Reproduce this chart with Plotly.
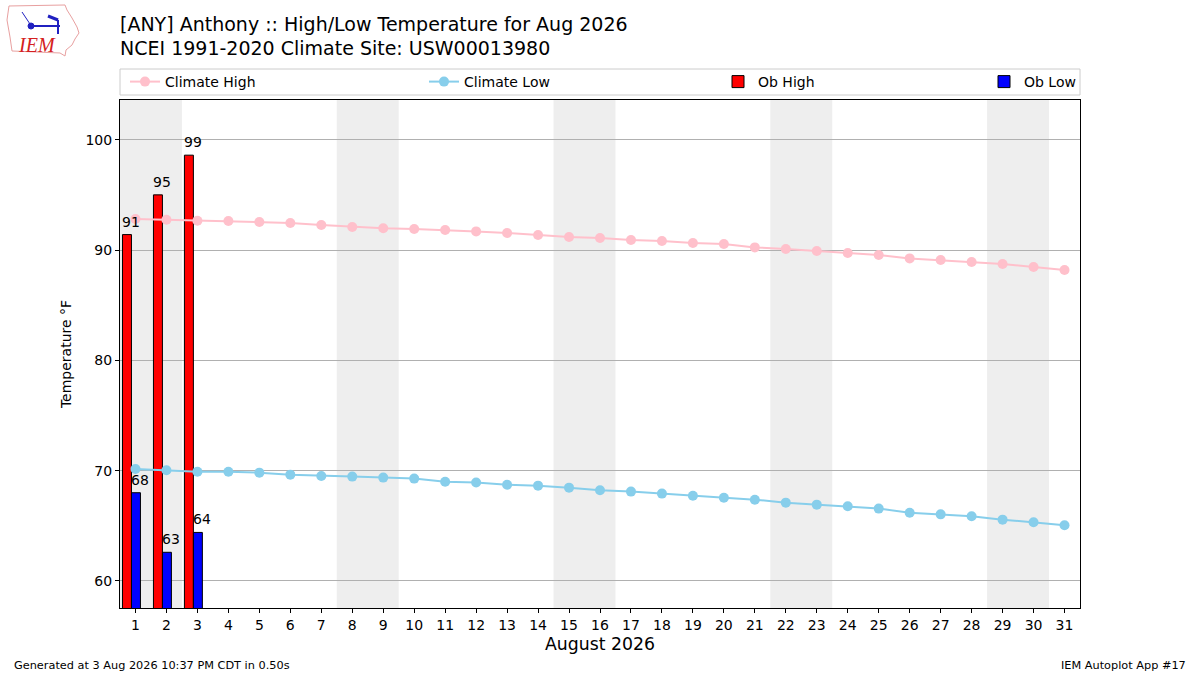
import datetime
import plotly.graph_objects as go

# ---------------- data ----------------
days = list(range(1, 32))
climate_high = [92.81, 92.75, 92.66, 92.63, 92.54, 92.45, 92.27, 92.09, 91.97, 91.90,
                91.82, 91.69, 91.54, 91.36, 91.18, 91.09, 90.91, 90.82, 90.63, 90.54,
                90.24, 90.09, 89.91, 89.73, 89.55, 89.24, 89.09, 88.91, 88.73, 88.46,
                88.19]
climate_low = [70.15, 70.03, 69.90, 69.90, 69.82, 69.64, 69.52, 69.46, 69.37, 69.28,
               69.00, 68.92, 68.73, 68.64, 68.46, 68.22, 68.10, 67.92, 67.73, 67.55,
               67.37, 67.10, 66.92, 66.77, 66.56, 66.19, 66.04, 65.86, 65.56, 65.32,
               65.05]
ob_days = [1, 2, 3]
ob_high = [91.4, 95.0, 98.6]
ob_low = [68.0, 62.6, 64.4]
tick_labels = [str(d) for d in days]
year, month = 2026, 8
weekend_days = [d for d in days if datetime.date(year, month, d).weekday() >= 5]

FONT = "DejaVu Sans"

# plot area in pixels (for placing decorations in paper coordinates)
L, R, T, B = 120, 1080, 100, 608


def px(xp):
    return (xp - L) / (R - L)


def py(yp):
    return (B - yp) / (B - T)


fig = go.Figure()

# weekend shading (merge consecutive days into one band)
groups = []
for d in weekend_days:
    if groups and d == groups[-1][1] + 1:
        groups[-1][1] = d
    else:
        groups.append([d, d])
for a, b in groups:
    fig.add_vrect(x0=a - 0.5, x1=b + 0.5, fillcolor="#eeeeee", opacity=1,
                  line_width=0, layer="below")

fig.add_trace(go.Bar(x=ob_days, y=ob_high, name="Ob High", marker_color="red",
                     marker_line_color="black", marker_line_width=1,
                     width=0.29, offset=-0.42, legend="legend3"))
fig.add_trace(go.Bar(x=ob_days, y=ob_low, name="Ob Low", marker_color="blue",
                     marker_line_color="black", marker_line_width=1,
                     width=0.29, offset=-0.13, legend="legend4"))
fig.add_trace(go.Scatter(x=days, y=climate_high, name="Climate High",
                         mode="lines+markers", line=dict(color="pink", width=2),
                         marker=dict(color="pink", size=10), legend="legend"))
fig.add_trace(go.Scatter(x=days, y=climate_low, name="Climate Low",
                         mode="lines+markers", line=dict(color="skyblue", width=2),
                         marker=dict(color="skyblue", size=10), legend="legend2"))

# bar value labels
for d, v in zip(ob_days, ob_high):
    fig.add_annotation(x=d - 0.42, y=v, text=f"{v:.0f}", showarrow=False,
                       xanchor="left", yanchor="bottom", yshift=3, xshift=-2,
                       font=dict(size=14, color="black", family=FONT))
for d, v in zip(ob_days, ob_low):
    fig.add_annotation(x=d - 0.13, y=v, text=f"{v:.0f}", showarrow=False,
                       xanchor="left", yanchor="bottom", yshift=3, xshift=-2,
                       font=dict(size=14, color="black", family=FONT))

# titles
fig.add_annotation(xref="paper", yref="paper", x=0, y=py(24), xanchor="left",
                   yanchor="middle", showarrow=False,
                   text="[ANY] Anthony :: High/Low Temperature for Aug 2026",
                   font=dict(size=19, color="black", family=FONT), xshift=-2)
fig.add_annotation(xref="paper", yref="paper", x=0, y=py(48), xanchor="left",
                   yanchor="middle", showarrow=False,
                   text="NCEI 1991-2020 Climate Site: USW00013980",
                   font=dict(size=19, color="black", family=FONT), xshift=-2)
# footer
fig.add_annotation(xref="paper", yref="paper", x=px(12), y=py(665), xanchor="left",
                   yanchor="middle", showarrow=False,
                   text="Generated at 3 Aug 2026 10:37 PM CDT in 0.50s",
                   font=dict(size=11.3, color="black", family=FONT))
fig.add_annotation(xref="paper", yref="paper", x=px(1188), y=py(665), xanchor="right",
                   yanchor="middle", showarrow=False,
                   text="IEM Autoplot App #17",
                   font=dict(size=11.3, color="black", family=FONT))

# logo (decoration)
iowa = [(9, 6), (65, 5), (67, 10), (72, 18), (77, 27), (79, 33), (75, 39), (72, 45),
        (66, 50), (65, 56), (60, 53), (12, 51), (10, 37), (7, 20)]
path = "M " + " L ".join(f"{px(a):.5f},{py(b):.5f}" for a, b in iowa) + " Z"
fig.add_shape(type="path", xref="paper", yref="paper", path=path,
              line=dict(color="#e8a0a0", width=1), fillcolor="white", layer="above")
fig.add_shape(type="line", xref="paper", yref="paper", x0=px(31), x1=px(60),
              y0=py(26), y1=py(26), line=dict(color="#2020c0", width=2))
fig.add_shape(type="line", xref="paper", yref="paper", x0=px(58), x1=px(58),
              y0=py(20), y1=py(34), line=dict(color="#2020c0", width=2))
fig.add_shape(type="line", xref="paper", yref="paper", x0=px(48), x1=px(58),
              y0=py(16), y1=py(20), line=dict(color="#2020c0", width=3))
fig.add_shape(type="circle", xref="paper", yref="paper", x0=px(28), x1=px(34),
              y0=py(23), y1=py(29), line=dict(color="#2020c0", width=1),
              fillcolor="#2020c0")
fig.add_shape(type="line", xref="paper", yref="paper", x0=px(22), x1=px(30),
              y0=py(12), y1=py(24), line=dict(color="#2020c0", width=1))
fig.add_annotation(xref="paper", yref="paper", x=px(37), y=py(45), xanchor="center",
                   yanchor="middle", showarrow=False, text="<i>IEM</i>",
                   font=dict(size=20, color="#d42020", family="Liberation Serif"))

# legend frame
fig.add_shape(type="rect", xref="paper", yref="paper", x0=0, x1=1,
              y0=py(95), y1=py(69),
              line=dict(color="#cccccc", width=1), fillcolor="rgba(0,0,0,0)",
              layer="above")

leg_common = dict(orientation="h", yanchor="middle", y=py(82),
                  xanchor="left", bgcolor="rgba(0,0,0,0)",
                  font=dict(size=14, color="black", family=FONT),
                  itemwidth=30, tracegroupgap=0)

fig.update_layout(
    width=1200, height=675,
    margin=dict(l=L, r=1200 - R, t=T, b=675 - B),
    paper_bgcolor="white", plot_bgcolor="white",
    barmode="overlay",
    font=dict(family=FONT, color="black", size=14),
    showlegend=True,
    legend=dict(x=px(125), **leg_common),
    legend2=dict(x=px(424), **leg_common),
    legend3=dict(x=px(718), **leg_common),
    legend4=dict(x=px(984), **leg_common),
    xaxis=dict(range=[0.5, 31.5], tickmode="array", tickvals=days,
               ticktext=tick_labels, showgrid=False, showline=True,
               linecolor="black", linewidth=1, mirror=True, ticks="outside",
               ticklen=4, tickcolor="black", zeroline=False,
               tickfont=dict(size=14),
               title=dict(text="August 2026", font=dict(size=17.3), standoff=6)),
    yaxis=dict(range=[57.55, 103.6], tickvals=[60, 70, 80, 90, 100],
               showgrid=True, gridcolor="#b0b0b0", gridwidth=1,
               showline=True, linecolor="black", linewidth=1, mirror=True,
               ticks="outside", ticklen=4, tickcolor="black", zeroline=False,
               tickfont=dict(size=14),
               title=dict(text="Temperature °F", font=dict(size=14), standoff=10)),
)

fig.write_html("out.html", config={"displayModeBar": False},
               post_script="document.body.style.margin='0';document.body.style.padding='0';")
